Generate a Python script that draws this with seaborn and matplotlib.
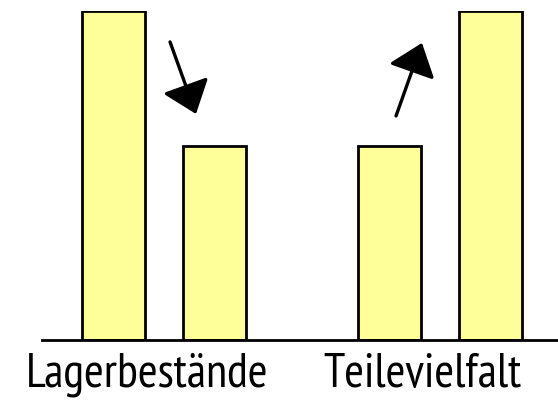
import pandas as pd
import numpy as np
import matplotlib.pyplot as plt
import matplotlib.transforms as mtransforms
import seaborn as sns

categories = ["Lagerbestände", "Lagerbestände", "Teilevielfalt", "Teilevielfalt"]
phases = ["vorher", "nachher", "vorher", "nachher"]
values = [10.0, 5.9, 5.9, 10.0]

df = pd.DataFrame({"kategorie": categories, "phase": phases, "wert": values})

sns.set_style("white")
plt.rcParams["font.family"] = ["PT Sans Narrow", "Liberation Sans", "DejaVu Sans"]

fig = plt.figure(figsize=(5.58, 4.01), dpi=100)
ax = fig.add_axes([42 / 558, 61 / 401, 1 - 42 / 558, 329 / 401])

sns.barplot(data=df, x="kategorie", y="wert", hue="phase",
            palette=["#FFFF99", "#FFFF99"], saturation=1, width=0.732, gap=0.377,
            edgecolor="black", linewidth=2.0, legend=False, ax=ax)

ax.set_xlim(-0.442, 1.428)
ax.set_ylim(0, 10)
ax.set_xlabel("")
ax.set_ylabel("")
ax.set_yticks([])
sns.despine(ax=ax, left=True, top=True, right=True)
ax.spines["bottom"].set_linewidth(2.0)
ax.spines["bottom"].set_color("black")
ax.tick_params(axis="x", length=0, pad=9, labelsize=34.5, colors="black")

# labels sit a bit left of the group centres
shift = mtransforms.ScaledTranslation(-17 / 100, 0, fig.dpi_scale_trans)
for lbl in ax.get_xticklabels():
    lbl.set_transform(lbl.get_transform() + shift)

arrow = dict(arrowstyle="-|>,head_length=0.95,head_width=0.75", mutation_scale=20,
             lw=2.4, color="black", shrinkA=0, shrinkB=0)
ax.annotate("", xy=(0.116, 6.87), xytext=(0.022, 9.06), arrowprops=arrow)
ax.annotate("", xy=(0.935, 9.03), xytext=(0.841, 6.81), arrowprops=arrow)

fig.savefig("out.png", dpi=100)
